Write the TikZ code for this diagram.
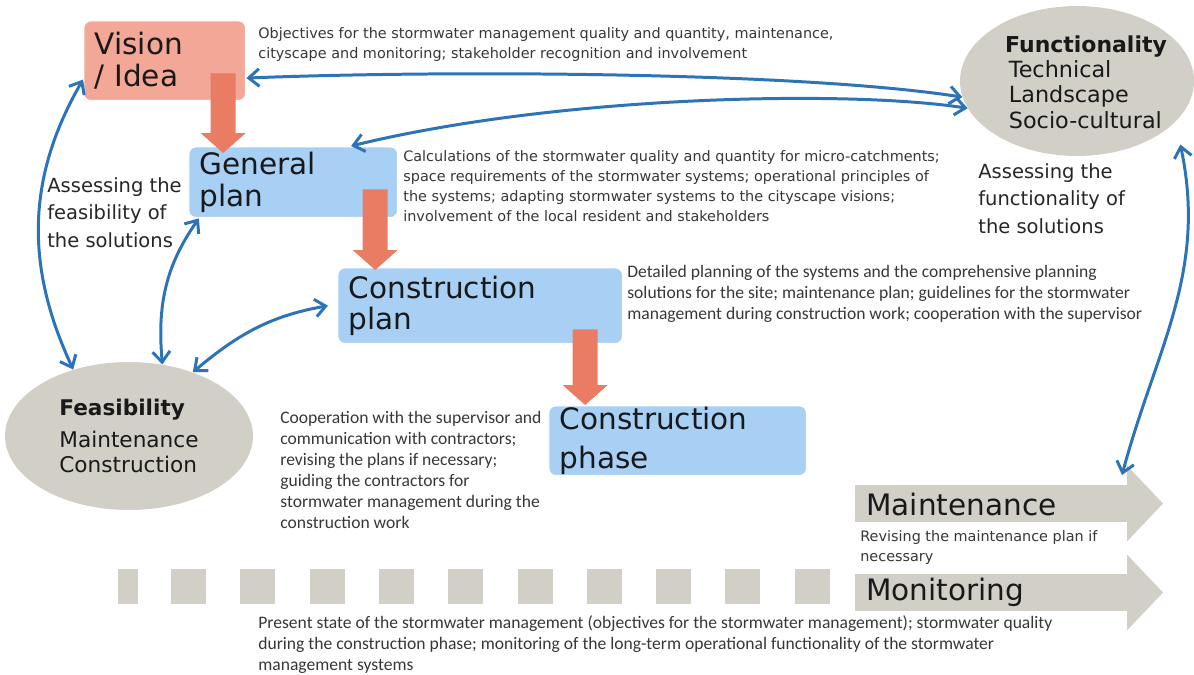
\documentclass[tikz,border=0pt]{standalone}
\usepackage{fontspec}
\setmainfont{DejaVu Sans}
\newfontfamily\calfont{Carlito}
\usetikzlibrary{arrows.meta,calc,shapes.geometric}
\pgfdeclarelayer{background}
\pgfsetlayers{background,main}

\definecolor{visionred}{RGB}{242,167,151}
\definecolor{planblue}{RGB}{168,208,244}
\definecolor{blockred}{RGB}{234,124,100}
\definecolor{stonegray}{RGB}{209,207,198}
\definecolor{linkblue}{RGB}{44,116,182}
\definecolor{notegray}{RGB}{55,55,55}

\tikzset{
  stagebox/.style={rectangle, rounded corners=4pt, draw=white, line width=0.8pt, anchor=north west,
    inner xsep=0.22cm, inner ysep=0pt, align=left, text=black!90, font=\fontsize{16.8}{18}\selectfont},
  bubble/.style={ellipse, fill=stonegray, inner sep=0pt, align=left, text=black!90, font=\fontsize{12.3}{14.4}\selectfont},
  note/.style={anchor=north west, inner sep=0pt, align=left, text=notegray, font=\fontsize{8.2}{11.4}\selectfont},
  calnote/.style={note, font=\calfont\fontsize{10}{11.9}\selectfont},
  assess/.style={note, text=black!85, font=\fontsize{11.1}{15.7}\selectfont},
  phaselabel/.style={anchor=base west, inner sep=0pt, text=black!90, font=\fontsize{16.8}{18}\selectfont},
  twoway/.style={linkblue, line width=1.7pt, arrows={Straight Barb[length=6pt,width=10pt]-Straight Barb[length=6pt,width=10pt]}},
  blockflow/.style={blockred, line width=14.2pt, arrows={-Triangle[width=25.5pt,length=11.3pt,line width=0pt]}},
  phasearrow/.style={stonegray, line width=21.5pt, arrows={-Triangle[width=43pt,length=20.4pt,line width=0pt]}},
}

\begin{document}
\begin{tikzpicture}[x=0.02cm, y=0.02cm]
	\useasboundingbox (0,0) rectangle (1194,-674);
	% time line at the bottom
	\fill[stonegray] (118,-569) rectangle (138,-604);
	\foreach \k in {0,...,9} \fill[stonegray] (171+69.3*\k,-569) rectangle ++(35,-35);
	\node[phaselabel] (maint) at (866,-515) {Maintenance};
	\node[phaselabel] (monit) at (866,-600) {Monitoring};
	\begin{pgfonlayer}{background}
	\draw[phasearrow] ($(maint.base west)+(-11,11.5)$) -- ++(308,0);
	\draw[phasearrow] ($(monit.base west)+(-11,7.5)$) -- ++(308,0);
	\end{pgfonlayer}
	\coordinate (mshaft) at ($(maint.base west)+(256,40)$);
	% assessment bubbles
	\node[bubble, minimum width=4.68cm, minimum height=3cm] (func) at (1077,-81) {};
	\node[inner sep=0pt, align=left, text=black!90, font=\fontsize{12.7}{14.4}\selectfont] (functext) at ($(func.center)+(9,-1)$) {{\bfseries\fontsize{12.5}{14.4}\selectfont Functionality}\\ \,Technical\\ \,Landscape\\ \,Socio-cultural};
	\node[bubble, minimum width=4.96cm, minimum height=2.96cm] (feas) at (129,-436) {{\bfseries Feasibility}\\[4pt] Maintenance\\ Construction};
	% planning stages
	\node[stagebox, fill=visionred, minimum width=3.24cm, minimum height=1.6cm, text width=2.8cm] (vision) at (83,-20) {Vision\\/ Idea};
	\node[stagebox, fill=planblue, minimum width=4.18cm, minimum height=1.42cm, text width=3.74cm] (gplan) at (188,-146) {General\\plan};
	\node[stagebox, fill=planblue, minimum width=5.7cm, minimum height=1.52cm, text width=5.26cm] (cplan) at (337,-267) {Construction\\plan};
	\node[stagebox, fill=planblue, minimum width=5.16cm, minimum height=1.4cm, text width=4.72cm] (cphase) at (548,-405) {Construction\\[4pt]phase};
	\draw[blockflow] ($(vision.south)+(58.5,28)$) -- ($(gplan.north)+(-70,-7)$);
	\draw[blockflow] ($(gplan.south)+(82,29)$) -- ($(cplan.north)+(-105,-3)$);
	\draw[blockflow] ($(cplan.south)+(105,15)$) -- ($(cphase.north)+(-92.5,0)$);
	% feedback
	\draw[twoway] (vision.-12) .. controls (450,-70) and (800,-72) .. (func.188);
	\draw[twoway] (gplan.32) .. controls (560,-95) and (850,-90) .. (func.194);
	\draw[twoway] (vision.193) to[out=240,in=115] (feas.130);
	\draw[twoway] (gplan.201) to[out=235,in=95] (feas.65);
	\draw[twoway] (feas.45) to[out=40,in=190] ($(cplan.west)+(-9,0)$);
	\draw[twoway] ($(func.-35)+(24,-8)$) to[out=-78,in=75] (mshaft);
	% notes
	\node[note] (objnote) at (258,-27) {Objectives for the stormwater management quality and quantity, maintenance,\\cityscape and monitoring; stakeholder recognition and involvement};
	\node[note] (calcnote) at (403,-150) {Calculations of the stormwater quality and quantity for micro-catchments;\\space requirements of the stormwater systems; operational principles of\\the systems; adapting stormwater systems to the cityscape visions;\\involvement of the local resident and stakeholders};
	\node[calnote] (detnote) at (627,-265) {Detailed planning of the systems and the comprehensive planning\\solutions for the site; maintenance plan; guidelines for the stormwater\\management during construction work; cooperation with the supervisor};
	\node[calnote] (coopnote) at (280,-411) {Cooperation with the supervisor and\\communication with contractors;\\revising the plans if necessary;\\guiding the contractors for\\stormwater management during the\\construction work};
	\node[note] (revnote) at (860,-530) {Revising the maintenance plan if\\necessary};
	\node[calnote] (presnote) at (258,-615) {Present state of the stormwater management (objectives for the stormwater management); stormwater quality\\during the construction phase; monitoring of the long-term operational functionality of the stormwater\\management systems};
	\node[assess] (feasnote) at (47,-177) {Assessing the\\feasibility of\\the solutions};
	\node[assess] (funcnote) at (978,-163) {Assessing the\\functionality of\\the solutions};
\end{tikzpicture}
\end{document}
